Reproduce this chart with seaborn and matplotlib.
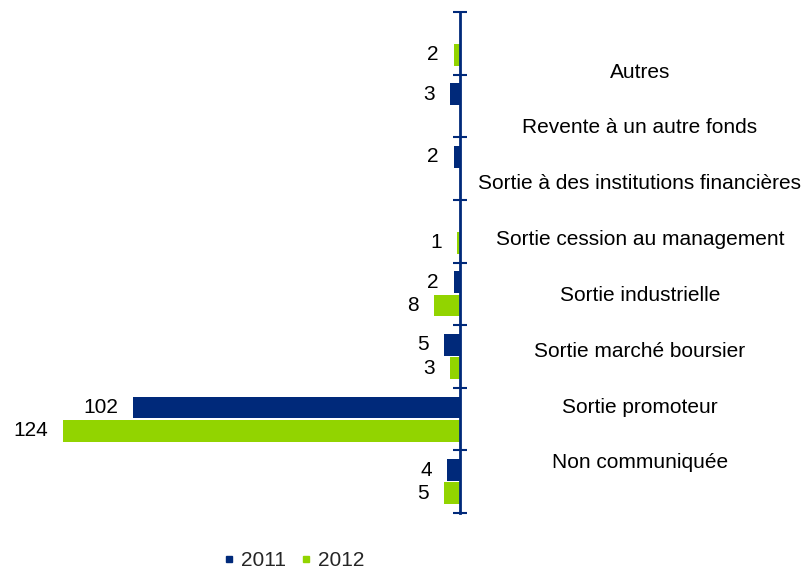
import matplotlib.pyplot as plt
import matplotlib.transforms as mtransforms
from matplotlib.lines import Line2D
import seaborn as sns
import numpy as np
import pandas as pd

sns.set_theme(style="white")
plt.rcParams['font.family'] = ['Liberation Sans', 'DejaVu Sans']

# --- data ---
categories = ["Autres", "Revente à un autre fonds", "Sortie à des institutions financières",
              "Sortie cession au management", "Sortie industrielle", "Sortie marché boursier",
              "Sortie promoteur", "Non communiquée"]
years = ["2011", "2012"]
values_2011 = [0, 3, 2, 0, 2, 5, 102, 4]
values_2012 = [2, 0, 0, 1, 8, 3, 124, 5]

navy = "#00297A"
green = "#92D400"

df = pd.DataFrame({
    "categorie": categories * 2,
    "annee": [years[0]] * len(categories) + [years[1]] * len(categories),
    "valeur": values_2011 + values_2012,
})

fig = plt.figure(figsize=(8.12, 5.73), dpi=100)
ax = fig.add_axes([63 / 812, 1 - 513 / 573, 397 / 812, 501 / 573])

sns.barplot(data=df, y="categorie", x="valeur", hue="annee", order=categories,
            hue_order=years, palette=[navy, green], saturation=1, orient="h",
            width=0.74, gap=0.06, linewidth=0, legend=False, ax=ax)

ax.set_xlim(max(values_2011 + values_2012), 0)
ax.set_ylim(len(categories) - 0.5, -0.5)

# value labels (zeros are not shown)
for cont, vals in zip(ax.containers, [values_2011, values_2012]):
    ax.bar_label(cont, labels=[str(v) if v > 0 else "" for v in vals],
                 padding=11, fontsize=15, color="black")

# axis: only the right spine with ticks at the band boundaries
for side in ["left", "top", "bottom"]:
    ax.spines[side].set_visible(False)
ax.spines["right"].set_color(navy)
ax.spines["right"].set_linewidth(2)
ax.yaxis.tick_right()
ax.set_yticks(np.arange(len(categories) + 1) - 0.5)
ax.set_yticklabels([])
ax.tick_params(axis="y", direction="inout", length=10, width=1.5, color=navy)
ax.set_xticks([])
ax.set_xlabel("")
ax.set_ylabel("")

# category labels sit to the right of the axis (slightly offset from the bars, as in the original)
label_pos = np.linspace(0.46, 6.70, len(categories))
trans = mtransforms.blended_transform_factory(fig.transFigure, ax.transData)
for cat, y in zip(categories, label_pos):
    ax.text(640 / 812, y, cat, transform=trans, ha="center", va="center",
            fontsize=15, color="black", clip_on=False)

handles = [Line2D([], [], marker="s", linestyle="", color=c, markersize=5) for c in [navy, green]]
fig.legend(handles, years, loc="center", bbox_to_anchor=(0.362, 0.022), ncol=2,
           frameon=False, fontsize=15, handlelength=0.5, handletextpad=0.3,
           columnspacing=0.73, borderpad=0)

fig.savefig("out.png", dpi=100)
